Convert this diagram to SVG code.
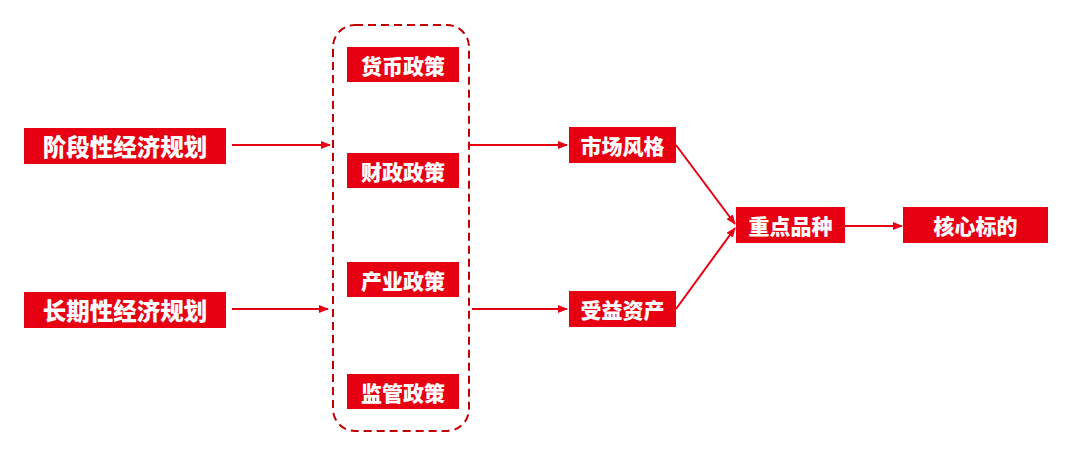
<svg xmlns="http://www.w3.org/2000/svg" width="1081" height="458" viewBox="0 0 1081 458">
<defs>
<marker id="ah" markerWidth="10" markerHeight="8" refX="9" refY="4" orient="auto" markerUnits="userSpaceOnUse">
<path d="M0,0 L10,4 L0,8 Z" fill="#E60012"/>
</marker>
<style>
.box{fill:#E60012}
.t{fill:#fff;font-family:"Noto Sans CJK SC","Noto Sans CJK JP",sans-serif;font-weight:900;text-anchor:middle;dominant-baseline:central}
.big{font-size:23.5px}
.sm{font-size:21px}
.c{stroke:#E60012;stroke-width:2;fill:none;marker-end:url(#ah)}
</style>
</defs>
<rect width="1081" height="458" fill="#fff"/>
<rect x="333" y="25" width="136" height="406" rx="22" ry="22" fill="none" stroke="#C00000" stroke-width="2" stroke-dasharray="8,5"/>
<g id="connectors">
<line class="c" x1="232" y1="145" x2="330" y2="145"/>
<line class="c" x1="232" y1="309" x2="328" y2="309"/>
<line class="c" x1="469" y1="145" x2="567" y2="145"/>
<line class="c" x1="472" y1="309" x2="567" y2="309"/>
<line class="c" x1="676" y1="145" x2="735" y2="224"/>
<line class="c" x1="676" y1="309" x2="735" y2="228"/>
<line class="c" x1="845" y1="226" x2="902" y2="226"/>
</g>
<g id="n1"><rect class="box" x="24" y="128" width="202" height="36"/><text class="t big" x="125" y="146">阶段性经济规划</text></g>
<g id="n2"><rect class="box" x="24" y="292" width="202" height="36"/><text class="t big" x="125" y="310">长期性经济规划</text></g>
<g id="n3"><rect class="box" x="347" y="47" width="112" height="35"/><text class="t sm" x="403" y="64.5">货币政策</text></g>
<g id="n4"><rect class="box" x="347" y="153" width="112" height="35"/><text class="t sm" x="403" y="170.5">财政政策</text></g>
<g id="n5"><rect class="box" x="347" y="262" width="112" height="35"/><text class="t sm" x="403" y="279.5">产业政策</text></g>
<g id="n6"><rect class="box" x="347" y="374" width="112" height="35"/><text class="t sm" x="403" y="391.5">监管政策</text></g>
<g id="n7"><rect class="box" x="569" y="127" width="107" height="36"/><text class="t sm" x="622.5" y="145">市场风格</text></g>
<g id="n8"><rect class="box" x="569" y="291" width="107" height="36"/><text class="t sm" x="622.5" y="309">受益资产</text></g>
<g id="n9"><rect class="box" x="736" y="207" width="109" height="36"/><text class="t sm" x="790.5" y="225">重点品种</text></g>
<g id="n10"><rect class="box" x="903" y="207" width="145" height="36"/><text class="t sm" x="975.5" y="225">核心标的</text></g>
</svg>
